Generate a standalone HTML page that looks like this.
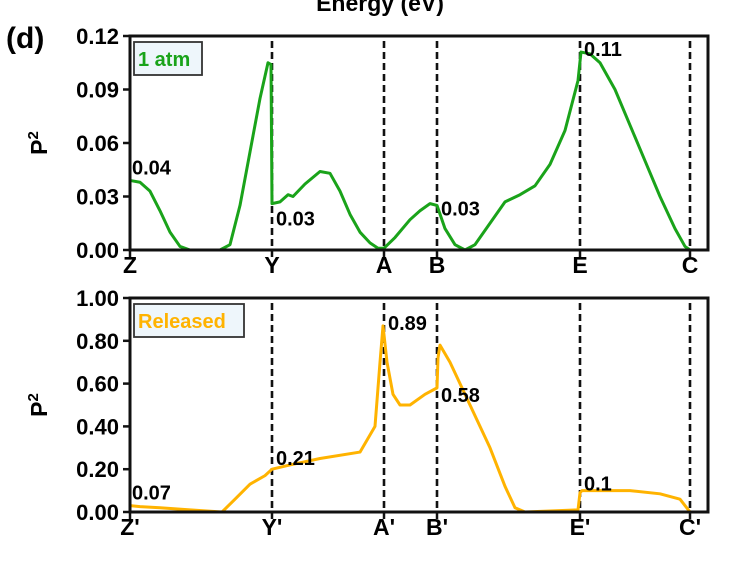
<!DOCTYPE html>
<html><head><meta charset="utf-8">
<style>
body{margin:0;background:#fff;}
svg{display:block;font-family:"Liberation Sans",Arial,sans-serif;font-weight:bold;}
</style></head>
<body>
<svg id="c" width="737" height="572" viewBox="0 0 737 572">
<text x="380" y="11" font-size="23" text-anchor="middle">Energy (eV)</text>
<text x="6" y="48" font-size="30">(d)</text>
<g id="g"></g>
</svg>
<script>
// k-path coordinate (0 = Z, 560 = C)
const kLabelsTop = ["Z","Y","A","B","E","C"];
const kLabelsBot = ["Z'","Y'","A'","B'","E'","C'"];
const kPos = [0,142,254,307,450,560];
const topTicks = [0,0.03,0.06,0.09,0.12];
const topTickLabels = ["0.00","0.03","0.06","0.09","0.12"];
const botTicks = [0,0.2,0.4,0.6,0.8,1.0];
const botTickLabels = ["0.00","0.20","0.40","0.60","0.80","1.00"];
const topK = [0,10,20,30,40,50,60,90,100,110,120,130,138,141,142,150,158,163,175,190,200,210,220,230,240,248,254,265,280,290,300,307,315,325,335,345,360,375,390,405,420,435,448,451,460,470,485,500,515,530,545,555,560];
const topV = [0.039,0.038,0.033,0.022,0.010,0.002,0,0,0.003,0.025,0.055,0.085,0.105,0.104,0.026,0.027,0.031,0.030,0.037,0.044,0.043,0.033,0.020,0.010,0.004,0.001,0.001,0.007,0.017,0.022,0.026,0.025,0.012,0.003,0.000,0.003,0.015,0.027,0.031,0.036,0.048,0.067,0.095,0.111,0.110,0.105,0.090,0.070,0.050,0.030,0.012,0.002,0];
const botK = [0,10,30,60,92,105,120,135,142,160,190,230,245,250,253,257,263,270,280,295,307,308,310,320,340,360,375,385,395,448,450,452,470,500,530,550,560];
const botV = [0.03,0.025,0.02,0.01,0.0,0.06,0.13,0.17,0.20,0.22,0.25,0.28,0.40,0.70,0.87,0.70,0.55,0.50,0.50,0.55,0.58,0.72,0.78,0.70,0.50,0.30,0.12,0.02,0.0,0.01,0.09,0.10,0.10,0.10,0.085,0.06,0];
const topAnn = [[0,0.039,"0.04",2,-6],[142,0.026,"0.03",4,22],[307,0.025,"0.03",4,10],[450,0.111,"0.11",4,4]];
const botAnn = [[0,0.03,"0.07",2,-6],[142,0.20,"0.21",4,-4],[254,0.87,"0.89",4,4],[307,0.58,"0.58",4,14],[450,0.10,"0.1",4,0]];

const NS="http://www.w3.org/2000/svg";
const g=document.getElementById('g');
function mk(t,a,p){const e=document.createElementNS(NS,t);for(const k in a)e.setAttribute(k,a[k]);(p||g).appendChild(e);return e;}
const L=130,R=708,kx=k=>130+k;
function panel(top,bot,maxV,ticks,tl,labels,K,V,color,ann,leg,legW,name){
  const y=v=>bot-(v/maxV)*(bot-top);
  const pg=mk('g',{});
  
  
  kPos.forEach((k,i)=>{
    if(i>0){const d=mk('line',{x1:kx(k),x2:kx(k),y1:top+5,y2:bot,stroke:'#111','stroke-width':2.6,'stroke-dasharray':'7,4'},pg);
      }
    mk('line',{x1:kx(k),x2:kx(k),y1:bot,y2:bot+7,stroke:'#111','stroke-width':2.5},pg);
    const t=mk('text',{x:kx(k),y:bot+23,'font-size':23,'text-anchor':'middle'},pg);t.textContent=labels[i];
    
  });
  ticks.forEach((v,i)=>{
    mk('line',{x1:L-7,x2:L,y1:y(v),y2:y(v),stroke:'#111','stroke-width':2.5},pg);
    const t=mk('text',{x:L-11,y:y(v)+8,'font-size':22,'text-anchor':'end'},pg);t.textContent=tl[i];
    
  });
  const pts=K.map((k,i)=>kx(k)+','+y(V[i])).join(' ');
  const pl=mk('polyline',{points:pts,fill:'none',stroke:color,'stroke-width':3,'stroke-linejoin':'round'},pg);
  
  mk('rect',{x:L,y:top,width:R-L,height:bot-top,fill:'none',stroke:'#111','stroke-width':3},pg);
  ann.forEach(a=>{const t=mk('text',{x:kx(a[0])+a[3],y:y(a[1])+a[4],'font-size':20},pg);t.textContent=a[2];
    });
  const lr=mk('rect',{x:134,y:42,width:legW,height:33,fill:'#eef6fb',stroke:'#333','stroke-width':1.8},pg);
  lr.setAttribute('transform','translate(0,'+(top-36)+')');
  
  const lt=mk('text',{x:138,y:66+(top-36),'font-size':20,fill:color},pg);lt.textContent=leg;
  
  const yt=mk('text',{x:0,y:0,'font-size':23,'text-anchor':'middle',transform:'translate(47,'+((top+bot)/2)+') rotate(-90)'},pg);
  yt.innerHTML='P<tspan dy="-9" font-size="15">2</tspan>';
  
}
panel(36,250,0.12,topTicks,topTickLabels,kLabelsTop,topK,topV,'#1aa31a',topAnn,'1 atm',68,'ambient');
panel(298,512,1.0,botTicks,botTickLabels,kLabelsBot,botK,botV,'#ffb300',botAnn,'Released',110,'released');
</script>
</body></html>
